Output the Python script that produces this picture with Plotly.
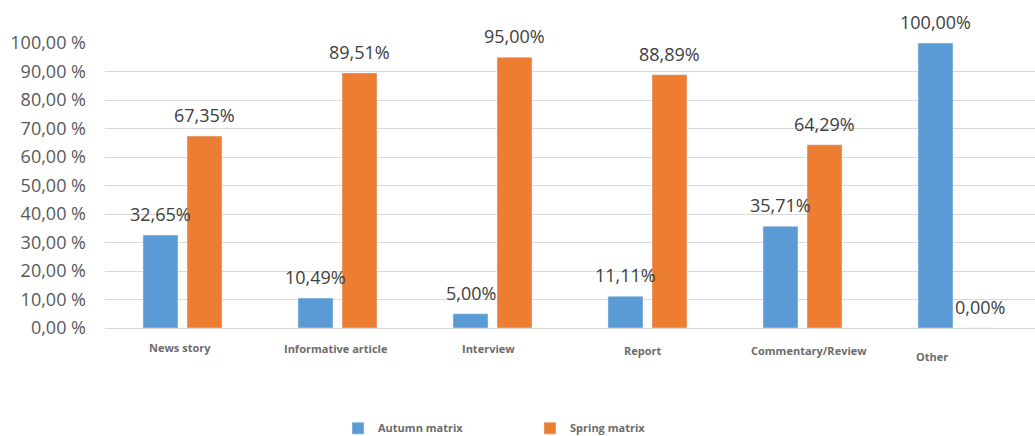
import plotly.graph_objects as go

categories = ["News story", "Informative article", "Interview", "Report", "Commentary/Review", "Other"]
autumn = [32.65, 10.49, 5.00, 11.11, 35.71, 100.00]
spring = [67.35, 89.51, 95.00, 88.89, 64.29, 0.00]
tick_vals = [0, 10, 20, 30, 40, 50, 60, 70, 80, 90, 100]
tick_text = ["0,00 %", "10,00 %", "20,00 %", "30,00 %", "40,00 %", "50,00 %",
             "60,00 %", "70,00 %", "80,00 %", "90,00 %", "100,00 %"]

# styling / label offsets (pixels)
cat_xshift = [-3, -2, -4, -5, 6, -26]
cat_yshift = [-19, -20, -20, -22, -22, -28]
BLUE = "#5b9bd5"
ORANGE = "#ed7d31"

def fmt(v):
    return f"{v:.2f}".replace(".", ",") + "%"

fig = go.Figure()
fig.add_trace(go.Bar(x=categories, y=autumn, name="Autumn matrix", marker_color=BLUE))
fig.add_trace(go.Bar(x=categories, y=spring, name="Spring matrix", marker_color=ORANGE))

annotations = []
for i, c in enumerate(categories):
    for vals, dx in ((autumn, -22), (spring, 22)):
        annotations.append(dict(x=c, y=vals[i], xref="x", yref="y", text=fmt(vals[i]),
                                showarrow=False, xshift=dx, yshift=21,
                                font=dict(family="Open Sans", size=18, color="#404040")))
    annotations.append(dict(x=c, y=0, xref="x", yref="y", text="<b>" + c + "</b>",
                            showarrow=False, xshift=cat_xshift[i], yshift=cat_yshift[i],
                            font=dict(family="Open Sans", size=11, color="#6b6b6b")))

fig.update_layout(
    width=1035, height=436,
    margin=dict(l=105, r=0, t=43, b=108, autoexpand=False),
    paper_bgcolor="white", plot_bgcolor="white",
    barmode="group", bargap=0.432, bargroupgap=0.2045,
    showlegend=True,
    legend=dict(orientation="h", x=0.457, xanchor="center",
                yref="container", y=0.018, yanchor="middle",
                font=dict(family="Open Sans", size=11, color="#6b6b6b", weight="bold"),
                entrywidth=147, entrywidthmode="pixels"),
    annotations=annotations,
    xaxis=dict(showticklabels=False, showgrid=False, showline=False, ticks=""),
    yaxis=dict(range=[0, 100], tickvals=tick_vals, ticktext=tick_text,
               showgrid=True, gridcolor="#d9d9d9", gridwidth=1,
               zeroline=True, zerolinecolor="#d9d9d9", zerolinewidth=1,
               tickfont=dict(family="Open Sans", size=18, color="#595959"),
               ticklabelstandoff=18),
)

fig.write_html("out.html")
